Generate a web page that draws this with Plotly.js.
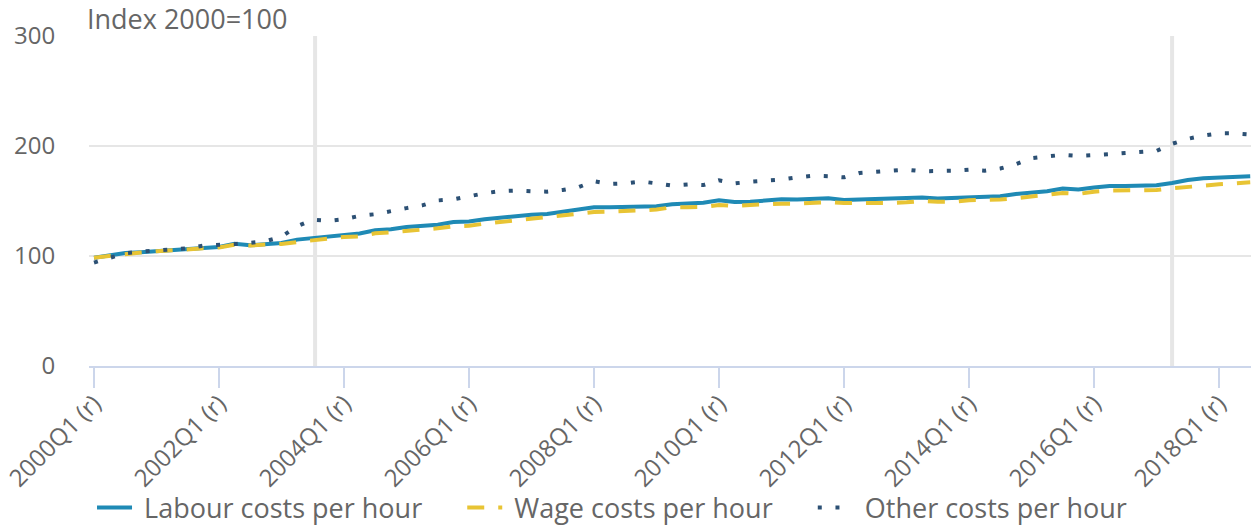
<!DOCTYPE html>
<html>
<head>
<meta charset="utf-8">
<script src="https://cdn.plot.ly/plotly-3.0.1.min.js"></script>
<style>
html,body{margin:0;padding:0;background:#fff;overflow:hidden;width:1251px;height:526px;}
#chart{width:1251px;height:546px;}
</style>
</head>
<body>
<div id="chart"></div>
<script>
const quarters = [
"2000Q1 (r)","2000Q2 (r)","2000Q3 (r)","2000Q4 (r)",
"2001Q1 (r)","2001Q2 (r)","2001Q3 (r)","2001Q4 (r)",
"2002Q1 (r)","2002Q2 (r)","2002Q3 (r)","2002Q4 (r)",
"2003Q1 (r)","2003Q2 (r)","2003Q3 (r)","2003Q4 (r)",
"2004Q1 (r)","2004Q2 (r)","2004Q3 (r)","2004Q4 (r)",
"2005Q1 (r)","2005Q2 (r)","2005Q3 (r)","2005Q4 (r)",
"2006Q1 (r)","2006Q2 (r)","2006Q3 (r)","2006Q4 (r)",
"2007Q1 (r)","2007Q2 (r)","2007Q3 (r)","2007Q4 (r)",
"2008Q1 (r)","2008Q2 (r)","2008Q3 (r)","2008Q4 (r)",
"2009Q1 (r)","2009Q2 (r)","2009Q3 (r)","2009Q4 (r)",
"2010Q1 (r)","2010Q2 (r)","2010Q3 (r)","2010Q4 (r)",
"2011Q1 (r)","2011Q2 (r)","2011Q3 (r)","2011Q4 (r)",
"2012Q1 (r)","2012Q2 (r)","2012Q3 (r)","2012Q4 (r)",
"2013Q1 (r)","2013Q2 (r)","2013Q3 (r)","2013Q4 (r)",
"2014Q1 (r)","2014Q2 (r)","2014Q3 (r)","2014Q4 (r)",
"2015Q1 (r)","2015Q2 (r)","2015Q3 (r)","2015Q4 (r)",
"2016Q1 (r)","2016Q2 (r)","2016Q3 (r)","2016Q4 (r)",
"2017Q1 (r)","2017Q2 (r)","2017Q3 (r)","2017Q4 (r)",
"2018Q1 (r)","2018Q2 (r)","2018Q3 (r)"
];

const labourCosts = [
98.5,100.6,102.7,103.4,104.6,105.2,106.4,107.3,108.2,111.2,
109.7,110.9,111.8,114.9,116.4,117.9,119.1,120.4,123.4,124.3,
126.4,127.6,128.5,130.9,131.3,133.4,134.9,136.4,137.6,138.2,
140.3,142.2,144.3,144.3,144.6,145.2,145.2,147.0,147.3,148.5,
150.6,149.1,149.4,150.4,151.5,151.3,151.8,152.5,150.9,151.3,
151.5,151.5,151.8,153.1,152.2,152.5,153.5,153.1,154.3,156.4,
157.9,158.8,161.3,160.4,162.2,163.6,163.6,164.0,164.3,166.4,
169.1,170.6,171.3,171.8,172.5
];

const wageCosts = [
98.5,100.3,102.3,103.2,104.3,105.0,106.0,107.0,107.8,110.2,
109.5,110.5,110.9,112.7,114.5,116.1,117.3,117.9,120.6,121.5,
122.7,123.6,125.2,127.0,127.5,129.4,130.9,132.8,133.6,134.9,
136.4,138.5,140.0,140.3,140.6,141.5,142.2,144.3,144.3,144.6,
146.4,145.5,146.4,147.3,147.6,147.6,148.2,149.1,148.2,147.9,
148.2,148.2,148.8,150.0,149.4,149.4,150.7,150.6,151.3,152.5,
154.0,155.2,157.3,156.4,158.5,159.5,159.7,159.7,160.0,161.5,
163.0,164.5,165.2,166.1,167.0
];

const otherCosts = [
94.0,98.5,102.5,104.0,105.0,106.0,107.0,109.5,110.0,110.8,
112.0,113.5,117.5,127.0,133.0,132.0,133.5,136.5,138.0,141.0,
143.5,146.0,150.5,151.5,154.5,157.0,159.0,159.5,158.8,158.5,
160.0,162.5,168.0,165.5,166.0,167.8,166.0,164.0,165.0,164.5,
168.8,166.0,167.5,168.3,169.5,171.5,173.0,172.5,171.5,175.5,
176.7,177.5,178.5,177.0,176.8,177.5,178.5,177.6,179.5,183.5,
189.0,190.5,192.0,191.0,191.5,192.5,193.6,194.3,195.5,202.0,
206.5,209.5,211.5,211.5,210.5
];

const seriesNames = ["Labour costs per hour","Wage costs per hour","Other costs per hour"];
const tickLabels = ["2000Q1 (r)","2002Q1 (r)","2004Q1 (r)","2006Q1 (r)","2008Q1 (r)","2010Q1 (r)","2012Q1 (r)","2014Q1 (r)","2016Q1 (r)","2018Q1 (r)"];
const yTicks = [0,100,200,300];
const breakLines = [14.15, 69];
const unitLabel = "Index 2000=100";

const FONT = "'Open Sans', 'Noto Sans', sans-serif";
const GREY = "#666666";
const NB = "\u00a0";
const lead = NB;
const trail = NB.repeat(5);

const traces = [
  {x: quarters, y: labourCosts, name: lead + seriesNames[0] + trail, type: "scatter", mode: "lines",
   line: {color: "#1f8ab5", width: 4}},
  {x: quarters, y: wageCosts, name: lead + seriesNames[1] + trail, type: "scatter", mode: "lines",
   line: {color: "#e8c434", width: 4, dash: "17px,14px"}},
  {x: quarters, y: otherCosts, name: lead + seriesNames[2], type: "scatter", mode: "lines",
   line: {color: "#2c5074", width: 4, dash: "4px,13.7px"}}
];

const shapes = breakLines.map(v => ({
  type: "line", xref: "x", yref: "paper", x0: v, x1: v, y0: 0, y1: 1,
  line: {color: "#e6e6e6", width: 4}, layer: "below"
}));

const layout = {
  width: 1251, height: 546,
  margin: {l: 89, r: 0, t: 36, b: 180, pad: 0, autoexpand: false},
  paper_bgcolor: "#ffffff", plot_bgcolor: "#ffffff",
  font: {family: FONT, color: GREY, size: 24},
  showlegend: true,
  legend: {orientation: "h", x: 0.0026, xanchor: "left", y: -0.356, yanchor: "top",
           font: {family: FONT, size: 27, color: GREY}, itemwidth: 35,
           bgcolor: "rgba(0,0,0,0)"},
  xaxis: {
    type: "category", range: [-0.32, 74.05], fixedrange: true, automargin: false,
    tickmode: "array", tickvals: tickLabels, ticktext: tickLabels,
    tickangle: -45, ticks: "outside", ticklen: 20, tickwidth: 2, tickcolor: "#ccd6eb",
    ticklabelstandoff: -8,
    showline: true, linecolor: "#ccd6eb", linewidth: 2,
    showgrid: false, zeroline: false,
    tickfont: {family: FONT, size: 24, color: GREY}
  },
  yaxis: {
    range: [0, 300], fixedrange: true, automargin: false,
    tickmode: "array", tickvals: yTicks,
    showgrid: true, gridcolor: "#e6e6e6", gridwidth: 2,
    zeroline: false, showline: false,
    ticks: "outside", ticklen: 28, tickcolor: "rgba(0,0,0,0)",
    tickfont: {family: FONT, size: 24, color: GREY}
  },
  shapes: shapes,
  annotations: [{
    text: unitLabel, xref: "paper", yref: "paper", x: 0, y: 1,
    xanchor: "left", yanchor: "bottom", showarrow: false, xshift: -4, yshift: -3,
    font: {family: FONT, size: 27, color: GREY}
  }],
  hovermode: false
};

Plotly.newPlot("chart", traces, layout, {displayModeBar: false, staticPlot: true});
</script>
</body>
</html>
